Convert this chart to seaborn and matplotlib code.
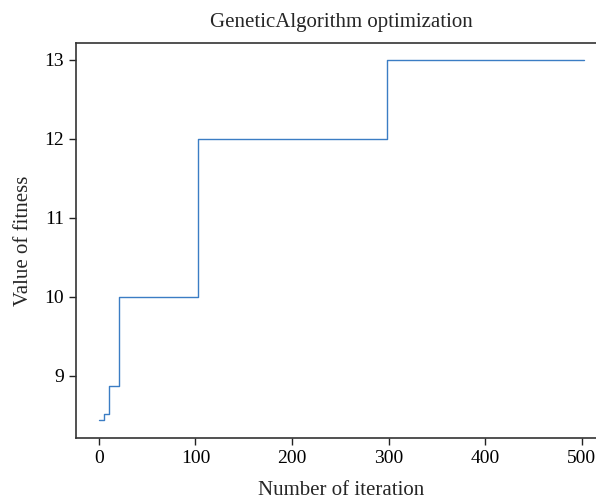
import matplotlib
matplotlib.use("Agg")
import matplotlib.pyplot as plt
import seaborn as sns
import pandas as pd

# Dados: iteracoes onde o melhor fitness muda, e o valor a partir dali
iteracoes = [0, 5, 11, 21, 103, 298, 502]
fitness = [8.44, 8.52, 8.87, 10.0, 12.0, 13.0, 13.0]
xticks = [0, 100, 200, 300, 400, 500]
yticks = [9, 10, 11, 12, 13]

df = pd.DataFrame({"iter": iteracoes, "fit": fitness})

sns.set_style("ticks")
plt.rcParams["font.family"] = ["Liberation Serif", "DejaVu Serif"]

fig = plt.figure(figsize=(5.96, 5.0), dpi=100)
# eixo vai um pouco alem da borda direita, como na figura original
ax = fig.add_axes([0.127, 0.1234, 0.891, 0.7912])

sns.lineplot(data=df, x="iter", y="fit", drawstyle="steps-post",
             color="#3b7dc4", linewidth=1.0, ax=ax)

ax.set_xlim(-24, 526)
ax.set_ylim(8.211, 13.219)
ax.set_xticks(xticks)
ax.set_yticks(yticks)
ax.tick_params(labelsize=14, length=5, width=1, colors="#222222", labelcolor="black")
for s in ["left", "bottom", "top"]:
    ax.spines[s].set_linewidth(1.2)
    ax.spines[s].set_color("#333333")
ax.spines["right"].set_visible(False)

ax.set_xlabel("Number of iteration", fontsize=15, labelpad=10)
ax.set_ylabel("Value of fitness", fontsize=15, labelpad=8)
ax.set_title("GeneticAlgorithm optimization", fontsize=15, pad=11)

fig.savefig("out.png", dpi=100)
